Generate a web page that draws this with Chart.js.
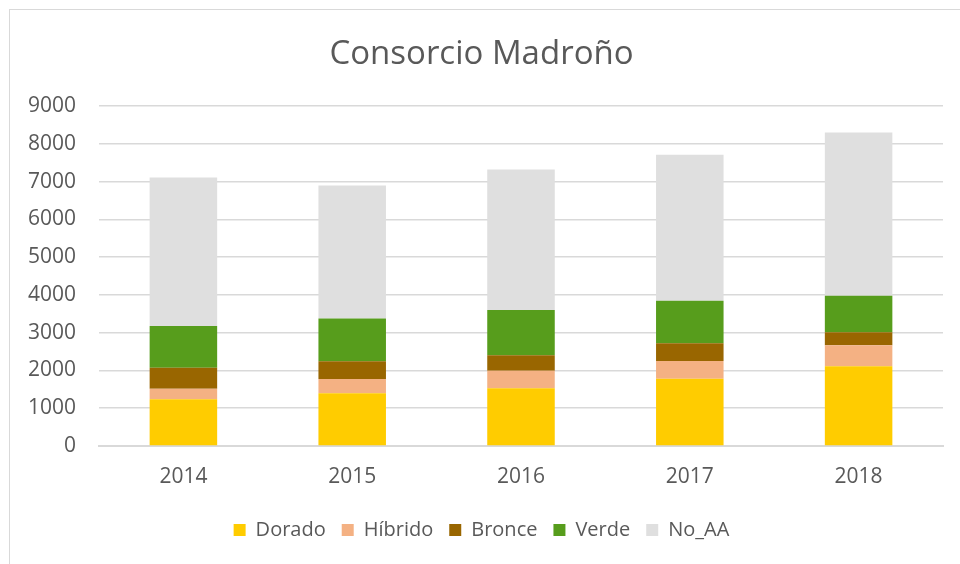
<!DOCTYPE html>
<html>
<head>
<meta charset="utf-8">
<script src="https://cdn.jsdelivr.net/npm/chart.js@4/dist/chart.umd.min.js"></script>
<style>
  html, body { margin: 0; padding: 0; background: #fff; }
  #wrap { position: relative; width: 960px; height: 564px; }
  #frame { position: absolute; left: 9px; top: 9px; width: 1000px; height: 600px; border: 1px solid #d9d9d9; pointer-events: none; }
</style>
</head>
<body>
<div id="wrap">
  <canvas id="chart" width="960" height="564"></canvas>
  <div id="frame"></div>
</div>
<script>
// years on the x axis
const years = ['2014', '2015', '2016', '2017', '2018'];

// stacked series
const dorado  = [1235, 1394, 1526, 1782, 2109];
const hibrido = [282, 379, 468, 468, 556];
const bronce  = [556, 468, 406, 468, 344];
const verde   = [1103, 1138, 1200, 1129, 970];
const noAA    = [3936, 3521, 3723, 3864, 4324];

const yTicks = [0, 1000, 2000, 3000, 4000, 5000, 6000, 7000, 8000, 9000];

const textColor = '#595959';
const fontFamily = '"Open Sans", sans-serif';

const ctx = document.getElementById('chart').getContext('2d');
new Chart(ctx, {
  type: 'bar',
  data: {
    labels: years,
    datasets: [
      { label: 'Dorado', data: dorado, backgroundColor: '#FFCC00' },
      { label: 'Híbrido', data: hibrido, backgroundColor: '#F4B183' },
      { label: 'Bronce', data: bronce, backgroundColor: '#996600' },
      { label: 'Verde', data: verde, backgroundColor: '#579D1C' },
      { label: 'No_AA', data: noAA, backgroundColor: '#DFDFDF' }
    ]
  },
  options: {
    responsive: false,
    animation: false,
    datasets: {
      bar: { categoryPercentage: 1, barPercentage: 0.4, borderWidth: 0 }
    },
    layout: { padding: { left: 20, right: 17, top: 0, bottom: 14 } },
    plugins: {
      title: {
        display: true,
        text: 'Consorcio Madroño',
        color: textColor,
        font: { family: fontFamily, size: 33, weight: 'normal' },
        padding: { top: 35, bottom: 31.5 }
      },
      legend: {
        position: 'bottom',
        labels: {
          color: textColor,
          font: { family: fontFamily, size: 20 },
          boxWidth: 12,
          boxHeight: 12,
          padding: 16
        }
      },
      tooltip: { enabled: false }
    },
    scales: {
      x: {
        stacked: true,
        grid: { display: false, drawTicks: false },
        border: { color: '#d9d9d9', width: 2 },
        ticks: { color: textColor, font: { family: fontFamily, size: 21 }, padding: 18 },
        afterFit: (scale) => { scale.height = 58; }
      },
      y: {
        stacked: true,
        min: 0,
        max: 9000,
        afterBuildTicks: (scale) => { scale.ticks = yTicks.map(v => ({ value: v })); },
        grid: { color: '#d9d9d9', lineWidth: 1.5, drawTicks: false },
        border: { display: false },
        ticks: {
          color: textColor,
          font: { family: fontFamily, size: 21 },
          padding: 23,
          callback: (v) => String(v)
        },
        afterFit: (scale) => { scale.width = 79; }
      }
    }
  }
});
</script>
</body>
</html>
